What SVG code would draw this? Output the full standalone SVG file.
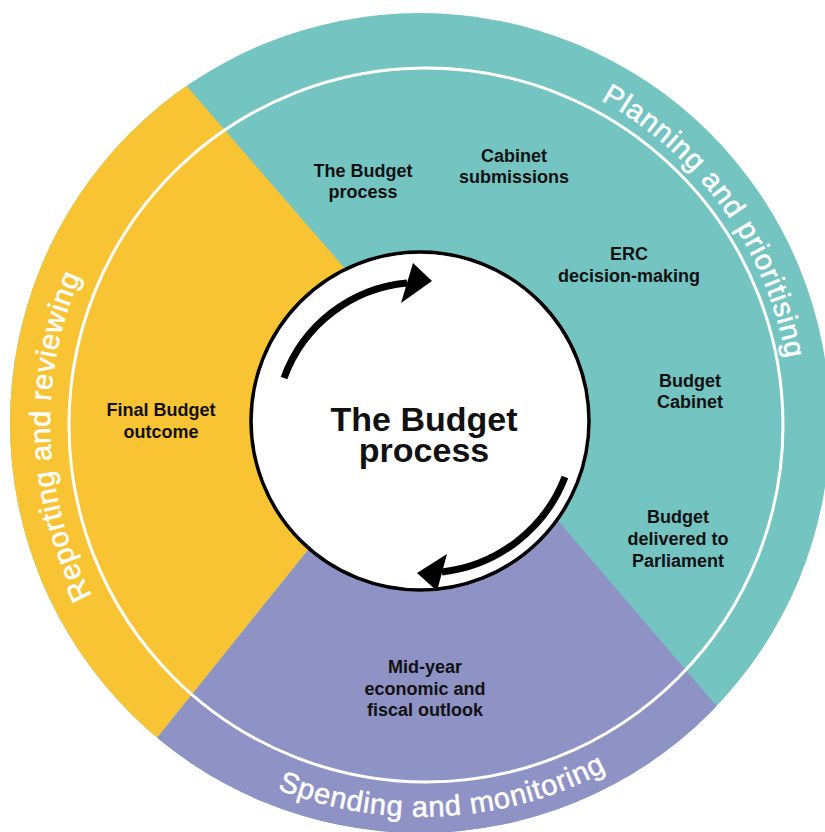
<svg xmlns="http://www.w3.org/2000/svg" width="825" height="832" viewBox="0 0 825 832">
  <style>
    .lbl { font-family: "Liberation Sans", Arial, sans-serif; font-weight: bold; font-size: 18px; fill: #111; text-anchor: middle; }
    .ring { font-family: "Liberation Sans", Arial, sans-serif; font-size: 29px; fill: #ffffff; stroke: #ffffff; stroke-width: 0.5; letter-spacing: 0.8px; }
    .title { font-family: "Liberation Sans", Arial, sans-serif; font-weight: bold; font-size: 34px; fill: #111; text-anchor: middle; }
    .shaft { fill: none; stroke: #000; stroke-width: 7; }
  </style>
  <defs>
    <clipPath id="outerClip">
      <circle cx="420" cy="423" r="410"/>
    </clipPath>
    <path id="arcTop" d="M 233.7 105.5 A 370 370 0 0 1 662.8 704.9"/>
    <path id="arcLeft" d="M 402.5 795.5 A 372 372 0 0 1 376.7 54.8"/>
    <path id="arcBottom" d="M 33.1 480.4 A 393 393 0 0 0 814.8 436"/>
  </defs>
  <rect width="825" height="832" fill="#ffffff"/>

  <g id="sectors" clip-path="url(#outerClip)">
    <g id="planning-sector">
      <rect x="0" y="0" width="825" height="832" fill="#74C4C2"/>
    </g>
    <g id="reporting-sector">
      <polygon points="380,309 112,0 -100,0 -100,1000 14,916 300,560 340,510 380,420" fill="#F8C434"/>
    </g>
    <g id="spending-sector">
      <polygon points="340,510 300,560 14,916 14,1100 1016,1100 1016,1056 572,537 532,490 420,470" fill="#8F92C4"/>
    </g>
  </g>

  <circle id="ring-line" cx="426" cy="425" r="357" fill="none" stroke="#ffffff" stroke-width="3"/>

  <g id="ring-labels">
    <text class="ring"><textPath href="#arcTop" startOffset="50%" text-anchor="middle">Planning and prioritising</textPath></text>
    <text class="ring"><textPath href="#arcLeft" startOffset="50%" text-anchor="middle">Reporting and reviewing</textPath></text>
    <text class="ring"><textPath href="#arcBottom" startOffset="50%" text-anchor="middle">Spending and monitoring</textPath></text>
  </g>

  <g id="center">
    <circle cx="420" cy="421" r="169" fill="#ffffff" stroke="#000" stroke-width="3.5"/>
    <text class="title" x="424" y="431">The Budget</text>
    <text class="title" x="424" y="462">process</text>
  </g>

  <g id="connectors">
    <path class="shaft" d="M 284 378 A 145 145 0 0 1 407 283"/>
    <polygon points="413,263 401,303 432,281" fill="#000"/>
    <path class="shaft" d="M 565 477 A 150 150 0 0 1 442 572"/>
    <polygon points="417,573 447,554 437,591" fill="#000"/>
  </g>

  <g id="node-budget-process">
    <text class="lbl" x="363" y="177">The Budget</text>
    <text class="lbl" x="363" y="198">process</text>
  </g>
  <g id="node-cabinet-submissions">
    <text class="lbl" x="514" y="162">Cabinet</text>
    <text class="lbl" x="514" y="183">submissions</text>
  </g>
  <g id="node-erc">
    <text class="lbl" x="629" y="260">ERC</text>
    <text class="lbl" x="629" y="282">decision-making</text>
  </g>
  <g id="node-budget-cabinet">
    <text class="lbl" x="690" y="387">Budget</text>
    <text class="lbl" x="690" y="408">Cabinet</text>
  </g>
  <g id="node-budget-delivered">
    <text class="lbl" x="678" y="523">Budget</text>
    <text class="lbl" x="678" y="545">delivered to</text>
    <text class="lbl" x="678" y="567">Parliament</text>
  </g>
  <g id="node-final-outcome">
    <text class="lbl" x="161" y="416">Final Budget</text>
    <text class="lbl" x="161" y="438">outcome</text>
  </g>
  <g id="node-myefo">
    <text class="lbl" x="425" y="673">Mid-year</text>
    <text class="lbl" x="425" y="695">economic and</text>
    <text class="lbl" x="425" y="716">fiscal outlook</text>
  </g>
</svg>
